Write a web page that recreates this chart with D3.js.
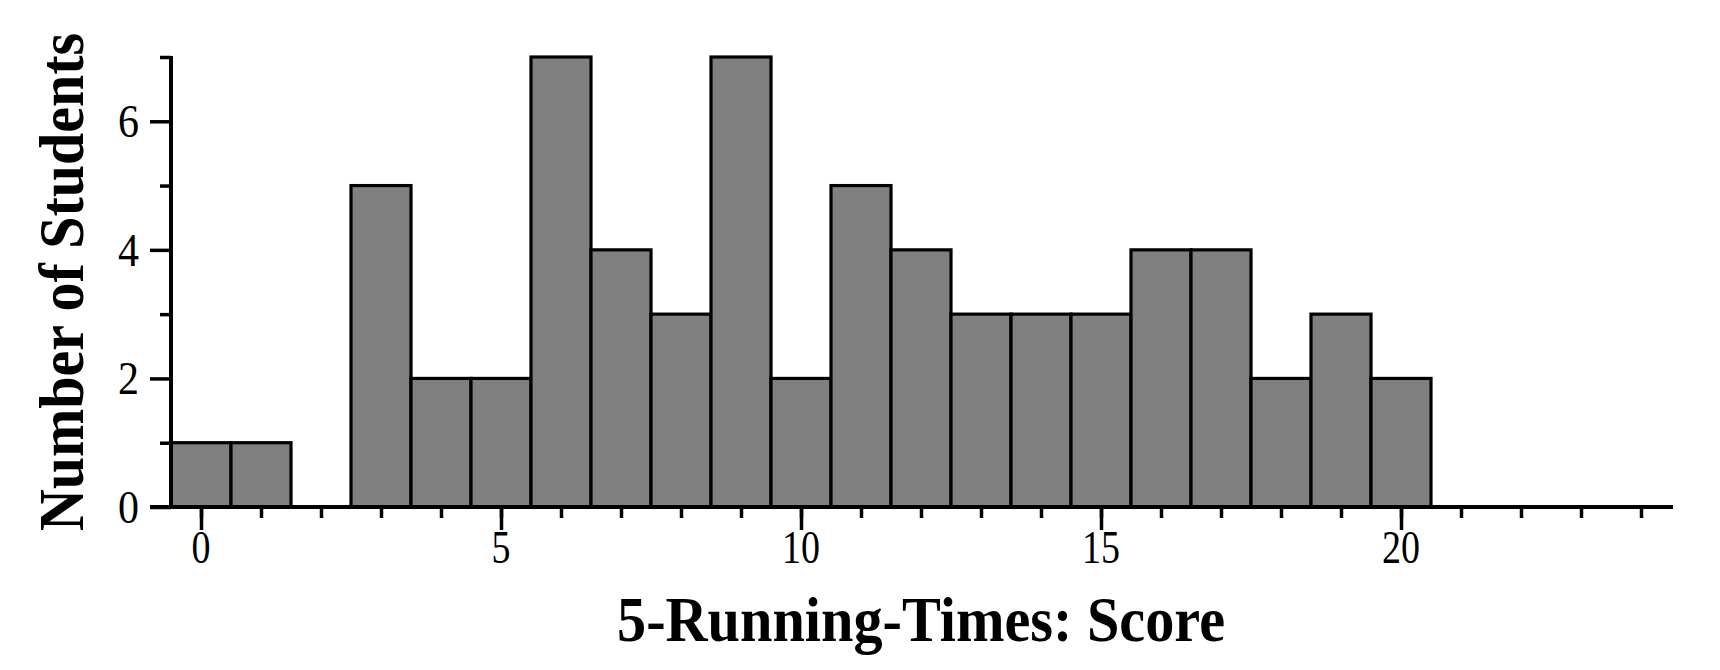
<!DOCTYPE html>
<html>
<head>
<meta charset="utf-8">
<script src="https://cdn.jsdelivr.net/npm/d3@7"></script>
<style>
  html, body { margin: 0; padding: 0; background: #fff; }
  svg { display: block; }
  text { font-family: "Liberation Serif", "Times New Roman", serif; fill: #000; }
</style>
</head>
<body>
<svg id="chart" width="1720" height="670"></svg>
<script>
// histogram bins (score) and counts
const scores = [0, 1, 2, 3, 4, 5, 6, 7, 8, 9, 10, 11, 12, 13, 14, 15, 16, 17, 18, 19, 20];
const counts = [1, 1, 0, 5, 2, 2, 7, 4, 3, 7, 2, 5, 4, 3, 3, 3, 4, 4, 2, 3, 2];

const xMajorTicks = [0, 5, 10, 15, 20];
const xMinorTicks = d3.range(0, 25);
const yMajorTicks = [0, 2, 4, 6];
const yMinorTicks = [1, 3, 5, 7];

const xTitle = '5-Running-Times: Score';
const yTitle = 'Number of Students';

const svg = d3.select('#chart');

const x = d3.scaleLinear().domain([-0.5, 24.5]).range([171, 1671]);
const y = d3.scaleLinear().domain([0, 7]).range([507, 57]);

// bars
svg.append('g')
  .selectAll('rect')
  .data(scores.map((s, i) => ({ s, c: counts[i] })).filter(d => d.c > 0))
  .join('rect')
  .attr('x', d => x(d.s - 0.5))
  .attr('y', d => y(d.c))
  .attr('width', d => x(d.s + 0.5) - x(d.s - 0.5))
  .attr('height', d => y(0) - y(d.c))
  .attr('fill', '#808080')
  .attr('stroke', '#000')
  .attr('stroke-width', 3.2);

// x axis: minor ticks, then major ticks with labels
const gx = svg.append('g').attr('transform', `translate(0,${y(0)})`);
gx.call(d3.axisBottom(x).tickValues(xMinorTicks).tickSize(11).tickFormat(''))
  .call(g => g.select('.domain').remove());
gx.append('g')
  .call(d3.axisBottom(x).tickValues(xMajorTicks).tickSize(23).tickFormat(''))
  .call(g => g.select('.domain').remove());
gx.selectAll('line').attr('stroke', '#000').attr('stroke-width', 3.5);

svg.append('g')
  .selectAll('text')
  .data(xMajorTicks)
  .join('text')
  .attr('x', d => x(d))
  .attr('y', 563)
  .attr('text-anchor', 'middle')
  .style('font-size', '47px')
  .attr('textLength', d => String(d).length * 19)
  .attr('lengthAdjust', 'spacingAndGlyphs')
  .text(d => d);

// y axis
const gy = svg.append('g').attr('transform', `translate(${x(-0.5)},0)`);
gy.call(d3.axisLeft(y).tickValues(yMinorTicks).tickSize(11).tickFormat(''))
  .call(g => g.select('.domain').remove());
gy.append('g')
  .call(d3.axisLeft(y).tickValues(yMajorTicks).tickSize(21).tickFormat(''))
  .call(g => g.select('.domain').remove());
gy.selectAll('line').attr('stroke', '#000').attr('stroke-width', 3.5);

svg.append('g')
  .selectAll('text')
  .data(yMajorTicks)
  .join('text')
  .attr('x', 139)
  .attr('y', d => y(d) + 16)
  .attr('text-anchor', 'end')
  .style('font-size', '47px')
  .attr('textLength', d => String(d).length * 21)
  .attr('lengthAdjust', 'spacingAndGlyphs')
  .text(d => d);

// axis lines
svg.append('line')
  .attr('x1', 150).attr('x2', 1673)
  .attr('y1', y(0)).attr('y2', y(0))
  .attr('stroke', '#000').attr('stroke-width', 4);
svg.append('line')
  .attr('x1', x(-0.5)).attr('x2', x(-0.5))
  .attr('y1', y(7) - 1).attr('y2', y(0) + 2)
  .attr('stroke', '#000').attr('stroke-width', 4);

// titles
svg.append('text')
  .attr('x', 921)
  .attr('y', 641)
  .attr('text-anchor', 'middle')
  .style('font-size', '63px')
  .style('font-weight', 'bold')
  .attr('textLength', 608)
  .attr('lengthAdjust', 'spacingAndGlyphs')
  .text(xTitle);

svg.append('text')
  .attr('transform', 'translate(83,282) rotate(-90)')
  .attr('text-anchor', 'middle')
  .style('font-size', '63px')
  .style('font-weight', 'bold')
  .attr('textLength', 498)
  .attr('lengthAdjust', 'spacingAndGlyphs')
  .text(yTitle);
</script>
</body>
</html>
